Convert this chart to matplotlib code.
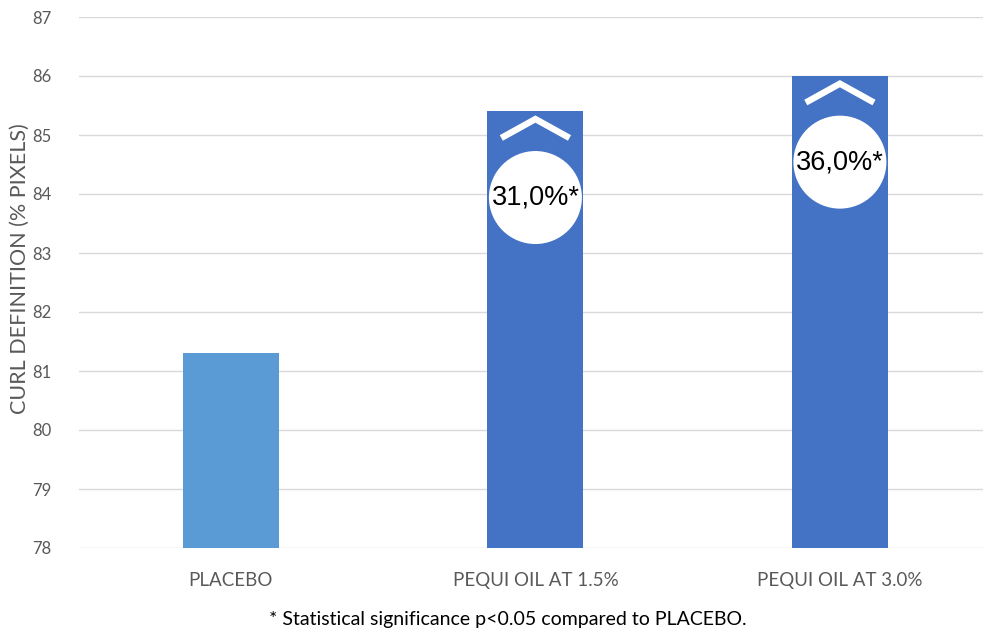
import matplotlib
matplotlib.use("Agg")
import matplotlib.pyplot as plt
import numpy as np

categories = ["PLACEBO", "PEQUI OIL AT 1.5%", "PEQUI OIL AT 3.0%"]
values = [81.3, 85.4, 86.0]
badges = [None, "31,0%*", "36,0%*"]
bar_colors = ["#5B9BD5", "#4472C4", "#4472C4"]
yticks = [78, 79, 80, 81, 82, 83, 84, 85, 86, 87]
ylabel = "CURL DEFINITION (% PIXELS)"
footnote = "* Statistical significance p<0.05 compared to PLACEBO."

plt.rcParams['font.family'] = ['Lato', 'DejaVu Sans']
W, H = 983, 632
fig = plt.figure(figsize=(W / 100, H / 100), dpi=100)
left, right, top, bottom = 79, 983, 17, 548
ax = fig.add_axes([left / W, 1 - bottom / H, (right - left) / W, (bottom - top) / H])

x = np.arange(len(categories))
ax.bar(x, [v - 78 for v in values], bottom=78, width=0.315, color=bar_colors, zorder=2)
ax.set_ylim(78, 87)
ax.set_xlim(-0.499, 2.47)
ax.set_yticks(yticks)
ax.grid(axis='y', color='#D9D9D9', linewidth=1, zorder=0)
ax.set_axisbelow(True)
for s in ax.spines.values():
    s.set_visible(False)
ax.tick_params(axis='both', length=0, colors='#595959')
ax.tick_params(axis='y', pad=20, labelsize=12)
ax.tick_params(axis='x', pad=17)
ax.set_xticks(x)
ax.set_xticklabels(categories, fontsize=13.5, color='#595959')
ax.set_ylabel(ylabel, fontsize=15.5, color='#595959', va='center')
ax.yaxis.set_label_coords((20 - left) / (right - left), (bottom - 269) / (bottom - top))

for xi, v, b in zip(x, values, badges):
    if b is None:
        continue
    ax.plot([xi - 0.112, xi, xi + 0.112], [v - 0.45, v - 0.13, v - 0.45],
            color='white', linewidth=4.6, solid_joinstyle='miter',
            solid_capstyle='butt', zorder=3)
    ax.scatter([xi], [v - 1.46], s=(2 * 46.5 * 0.72) ** 2, color='white',
               edgecolors='none', zorder=4)
    ax.text(xi, v - 1.46, b, ha='center', va='center', fontsize=19.5,
            color='black', zorder=5, family=['Liberation Sans', 'DejaVu Sans'])

fig.text(508 / W, 1 - 619 / H, footnote, ha='center', va='center',
         fontsize=14, color='black')

fig.savefig("out.png", dpi=100)
